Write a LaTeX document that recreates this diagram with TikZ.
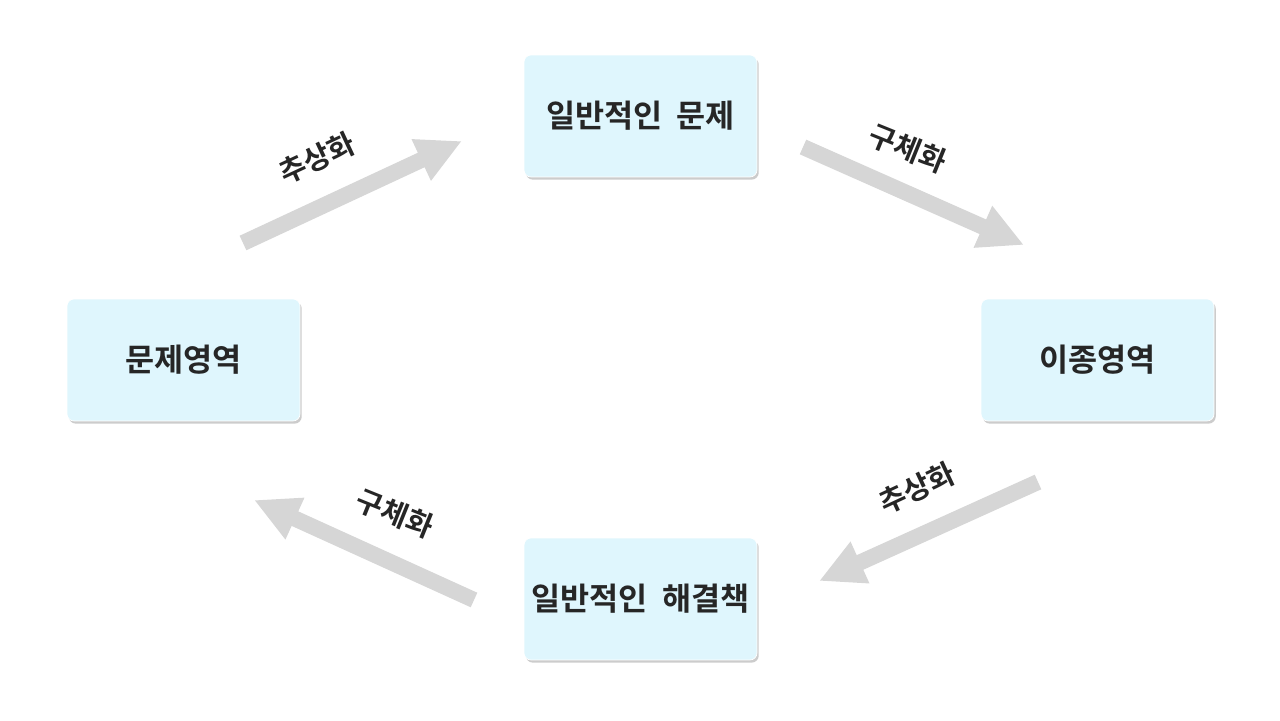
\documentclass[tikz,border=0pt]{standalone}
\usepackage{fontspec}
\newfontfamily\kr{Noto Sans CJK KR}[BoldFont={Noto Sans CJK KR Bold}]
\usetikzlibrary{arrows.meta,shadows}
\definecolor{boxfill}{HTML}{DFF6FD}
\definecolor{arrgray}{HTML}{D6D6D6}
\tikzset{
 box/.style={draw=white,fill=boxfill,rounded corners=4pt,minimum width=4.66cm,minimum height=2.44cm,
   drop shadow={shadow xshift=1pt,shadow yshift=-1.5pt,opacity=0.4},font=\kr\bfseries\fontsize{18}{20}\selectfont,text=black!85},
 bigarr/.style={draw=arrgray,line width=0.32cm,-{Triangle[width=0.85cm,length=0.9cm]}},
 lbl/.style={font=\kr\bfseries\fontsize{16.5}{18}\selectfont,text=black!85,inner sep=0pt}
}
\begin{document}
\begin{tikzpicture}[x=0.02cm,y=-0.02cm]
\useasboundingbox (0,0) rectangle (1280,720);
\node[box] (top) at (640.5,116) {일반적인\ \ 문제};
\node[box] (left) at (183.5,360) {문제영역};
\node[box] (right) at (1097.5,360) {이종영역};
\node[box] (bot) at (640.5,599) {일반적인\ \ 해결책};
\coordinate (a1) at (243,243); \coordinate (a2) at (462,141);
\coordinate (b1) at (803,147); \coordinate (b2) at (1024,245);
\coordinate (c1) at (1038,482); \coordinate (c2) at (819,581);
\coordinate (d1) at (474,600); \coordinate (d2) at (254,500);
\draw[bigarr] (a1) -- (a2);
\draw[bigarr] (b1) -- (b2);
\draw[bigarr] (c1) -- (c2);
\draw[bigarr] (d1) -- (d2);
\node[lbl,rotate=25] (l1) at (317,158) {추상화};
\node[lbl,rotate=-22] (l2) at (908,148) {구체화};
\node[lbl,rotate=25] (l3) at (917,488) {추상화};
\node[lbl,rotate=-22] (l4) at (395,513) {구체화};
\end{tikzpicture}
\end{document}
